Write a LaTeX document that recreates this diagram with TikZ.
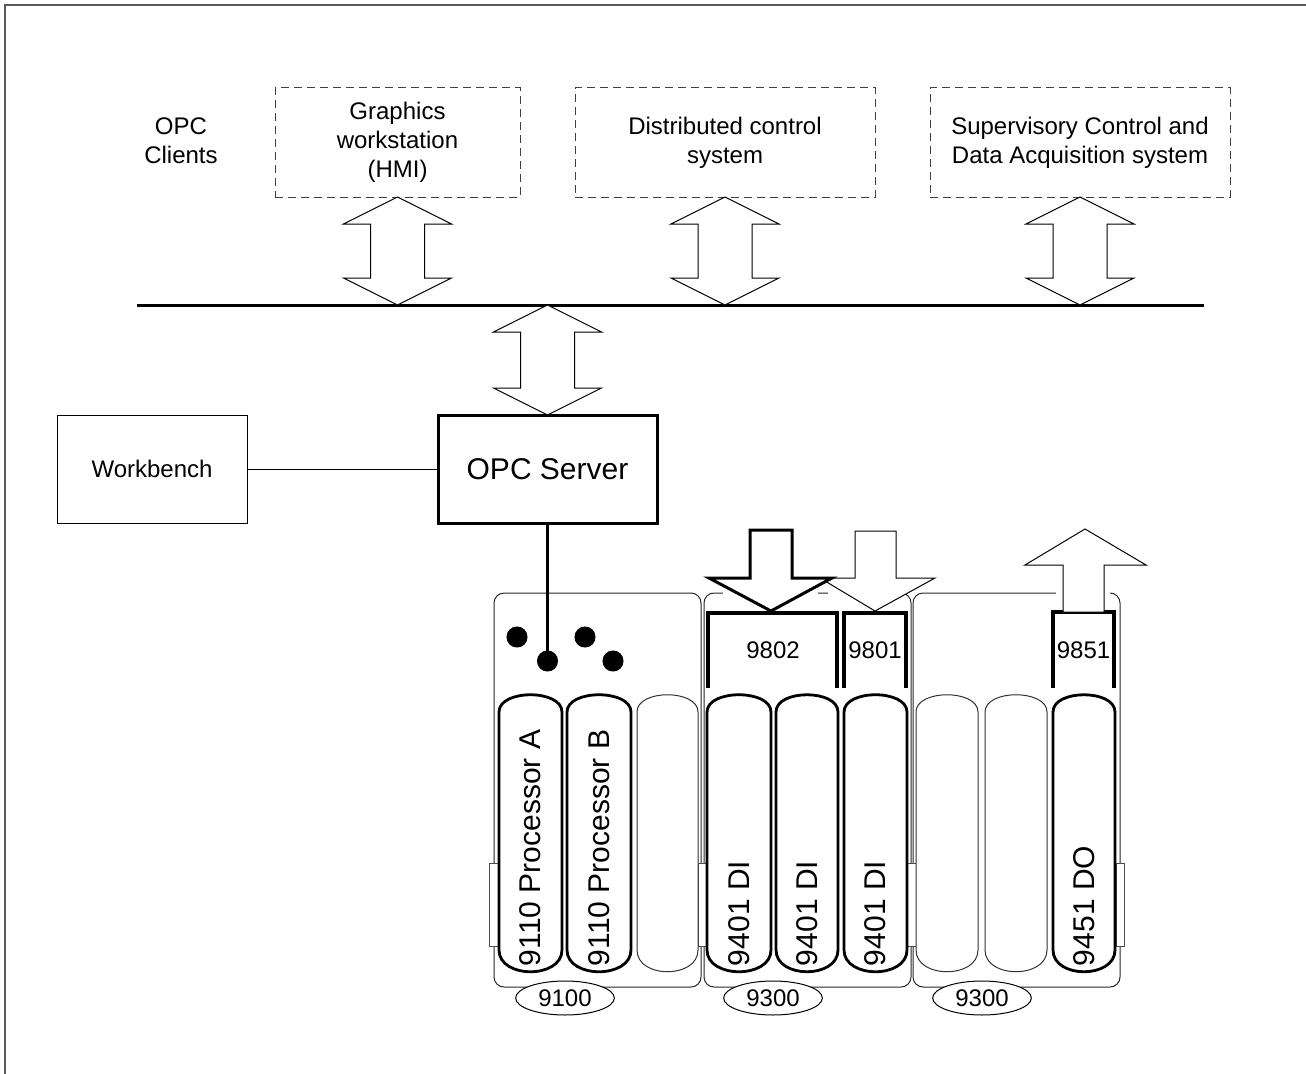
\documentclass[tikz,border=0pt]{standalone}
\usepackage{fontspec}
\setmainfont{Liberation Sans}
\usetikzlibrary{calc,shapes.geometric}
\newcommand\modpill[3]{\draw[#3] (#1,712) .. controls (#1,689) and (#2,689) .. (#2,712) -- (#2,950) .. controls (#2,979) and (#1,979) .. (#1,950) -- cycle;}
\newcommand\dblarr[2]{\draw[dblshape] (#1) -- ++(54,27) -- ++(-27,0) -- ($(#2)+(27,-27)$) -- ++(27,0) -- (#2) -- ++(-54,-27) -- ++(27,0) -- ($(#1)+(-27,27)$) -- ++(-27,0) -- cycle;}
\begin{document}
\begin{tikzpicture}[x=0.75pt,y=-0.75pt,
  every node/.style={inner sep=0pt, outer sep=0pt},
  txt/.style={align=center, font=\fontsize{18}{21.75}\selectfont},
  dbox/.style={draw=black!75, dash pattern=on 6pt off 3.75pt, line width=0.75pt, align=center, font=\fontsize{18}{21.75}\selectfont, minimum height=81.75pt},
  sbox/.style={draw, line width=0.75pt, font=\fontsize{18}{21.75}\selectfont, minimum width=142.5pt, minimum height=81pt},
  tbox/.style={draw, line width=2.25pt, font=\fontsize{22.5}{27}\selectfont, minimum width=164.25pt, minimum height=81pt},
  dblshape/.style={draw, fill=white, line width=0.75pt, line join=miter},
  chassis/.style={draw=black!85, line width=0.75pt, rounded corners=7.5pt},
  tabbox/.style={draw=black!70, fill=white, line width=0.75pt},
  pthick/.style={draw, fill=white, line width=2.1pt},
  pthin/.style={draw=black!80, fill=white, line width=0.75pt},
  hdr/.style={draw, line width=2.4pt, line cap=butt},
  hdrtext/.style={font=\fontsize{18}{21}\selectfont},
  pilltext/.style={rotate=90, anchor=west, font=\fontsize{22.5}{26}\selectfont},
  ell/.style={draw, fill=white, ellipse, line width=0.75pt, minimum width=74pt, minimum height=25.5pt, font=\fontsize{18}{21}\selectfont},
  dot/.style={fill=black}
]
\useasboundingbox (0,0) rectangle (1306,1074);
\draw[draw=black!65, line width=1.1pt] (5,1074) -- (5,5) -- (1306,5);

% clients
\node[txt] (opcc) at (181,141) {OPC\\Clients};
\node[dbox, minimum width=183.75pt] (gw) at (397.5,142.5) {Graphics\\workstation\\(HMI)};
\node[dbox, minimum width=225pt] (dcs) at (725,142.5) {Distributed control\\system};
\node[dbox, minimum width=225pt] (scada) at (1080,142.5) {Supervisory Control and\\Data Acquisition system};

% bus
\coordinate (busL) at (137,305);
\coordinate (busR) at (1204,305);
\draw[line width=2.25pt] (busL) -- (busR);

% server and workbench
\node[tbox] (opc) at (547.5,469) {OPC Server};
\node[sbox] (wb) at (152,469) {Workbench};
\draw[line width=0.75pt] (wb.east) -- (opc.west);

\dblarr{gw.south}{gw.south |- busL}
\dblarr{dcs.south}{dcs.south |- busL}
\dblarr{scada.south}{scada.south |- busL}
\dblarr{opc.north |- busL}{opc.north}

% chassis
\draw[chassis] (494,593) rectangle (701,987);
\draw[chassis] (704,593) rectangle (911,987);
\draw[chassis] (913,593) rectangle (1120,987);
\fill[white] (723,586) rectangle (818,599);
\fill[white] (828,586) rectangle (905,599);
\fill[white] (1056,586) rectangle (1110,599);

% tabs
\draw[tabbox] (489,863) rectangle (499,946);
\draw[tabbox] (698,863) rectangle (707,946);
\draw[tabbox] (907,863) rectangle (916,946);
\draw[tabbox] (1116,863) rectangle (1124,946);

% module slots
\modpill{499}{562}{pthick}
\modpill{567}{631}{pthick}
\modpill{637}{698}{pthin}
\modpill{707}{771}{pthick}
\modpill{776}{838}{pthick}
\modpill{844}{907}{pthick}
\modpill{916}{978}{pthin}
\modpill{985}{1047}{pthin}
\modpill{1053}{1115}{pthick}

\node[pilltext] (m1) at (530.5,966) {9110 Processor A};
\node[pilltext] (m2) at (599,966) {9110 Processor B};
\node[pilltext] (m4) at (739,966) {9401 DI};
\node[pilltext] (m5) at (807,966) {9401 DI};
\node[pilltext] (m6) at (875.5,966) {9401 DI};
\node[pilltext] (m9) at (1084,966) {9451 DO};

% header boxes
\draw[hdr] (708,688) -- (708,613) -- (837,613) -- (837,688);
\draw[hdr] (844,688) -- (844,613) -- (906,613) -- (906,688);
\draw[hdr] (1053,688) -- (1053,612) -- (1114,612) -- (1114,688);
\node[hdrtext] (h9802) at (773,650) {9802};
\node[hdrtext] (h9801) at (875,650) {9801};
\node[hdrtext] (h9851) at (1083.5,650) {9851};

% arrows
\coordinate (t9801) at (875,611);
\coordinate (t9802) at (771,611);
\coordinate (t9851) at (1085,529);
\draw[dblshape] (t9801) -- ++(60,-33) -- ++(-39,0) -- ++(0,-47) -- ++(-41,0) -- ++(0,47) -- ++(-35,0) -- cycle;
\draw[dblshape, line width=2.25pt] (t9802) -- ++(61,-33) -- ++(-40,0) -- ++(0,-48) -- ++(-42,0) -- ++(0,48) -- ++(-41,0) -- cycle;
\draw[dblshape] (t9851) -- ++(61,36) -- ++(-42,0) -- ++(0,47) -- ++(-41,0) -- ++(0,-47) -- ++(-38,0) -- cycle;

% bus ellipses
\node[ell] (e1) at (565,998) {9100};
\node[ell] (e2) at (773,998) {9300};
\node[ell] (e3) at (982,998) {9300};

% processor dots and server link
\coordinate (d1) at (517,637);
\coordinate (d2) at (547.5,661);
\coordinate (d3) at (585,637);
\coordinate (d4) at (613,661);
\draw[line width=2.25pt] (opc.south) -- (d2);
\fill[dot] (d1) circle[radius=7.9pt];
\fill[dot] (d2) circle[radius=7.9pt];
\fill[dot] (d3) circle[radius=7.9pt];
\fill[dot] (d4) circle[radius=7.9pt];
\end{tikzpicture}
\end{document}
